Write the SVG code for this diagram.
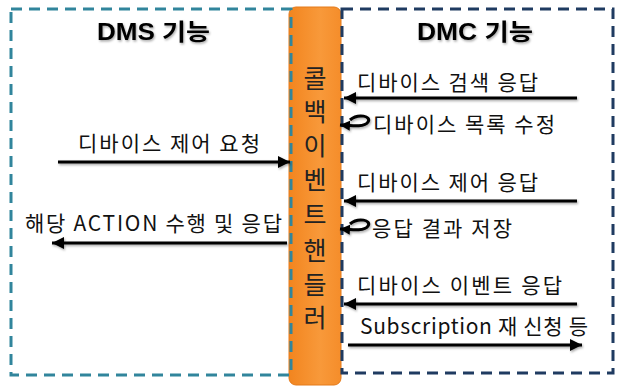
<svg xmlns="http://www.w3.org/2000/svg" width="618" height="386" viewBox="0 0 618 386">
<style>
.lbl{font-family:"Noto Sans CJK KR","Malgun Gothic",sans-serif;font-size:21px;fill:#111}
.ttl{font-family:"Liberation Sans","Noto Sans CJK KR",sans-serif;font-size:23px;font-weight:bold;fill:#000}
.vt{font-family:"Noto Sans CJK KR",sans-serif;font-size:25px;fill:#222;text-anchor:middle}
.arr{fill:none;stroke:#000;stroke-width:3}
</style>
<defs>
<linearGradient id="og" x1="0" y1="0" x2="1" y2="0">
<stop offset="0" stop-color="#F2851F"/>
<stop offset="0.6" stop-color="#F8993A"/>
<stop offset="1" stop-color="#F58D2A"/>
</linearGradient>
<marker id="ah" markerUnits="userSpaceOnUse" markerWidth="14" markerHeight="14" refX="12" refY="6" orient="auto">
<path d="M0,0 L12,6 L0,12 Z" fill="#000"/>
</marker>
<marker id="ahs" markerUnits="userSpaceOnUse" markerWidth="12" markerHeight="12" refX="10" refY="5" orient="auto">
<path d="M0,0 L10,5 L0,10 Z" fill="#000"/>
</marker>
<filter id="sh" x="-20%" y="-40%" width="140%" height="180%">
<feDropShadow dx="1" dy="1.5" stdDeviation="1" flood-color="#000" flood-opacity="0.35"/>
</filter>
</defs>
<g id="orange-bar">
<rect x="289" y="7" width="52" height="378" rx="7" ry="7" fill="url(#og)" stroke="#E47A1A" stroke-width="1"/>
</g>
<g id="dms-box">
<rect x="11" y="9" width="280" height="366" fill="none" stroke="#31859C" stroke-width="3" stroke-dasharray="11 7"/>
<text class="ttl" x="97" y="40" textLength="113" lengthAdjust="spacingAndGlyphs" filter="url(#sh)">DMS 기능</text>
</g>
<g id="dmc-box">
<rect x="342" y="9" width="271" height="364" fill="none" stroke="#1F3B61" stroke-width="3" stroke-dasharray="11 7"/>
<text class="ttl" x="417" y="40" textLength="116" lengthAdjust="spacingAndGlyphs" filter="url(#sh)">DMC 기능</text>
</g>
<g id="callback-label">
<text class="vt" x="315" y="88">콜</text>
<text class="vt" x="315" y="121">백</text>
<text class="vt" x="315" y="155">이</text>
<text class="vt" x="315" y="189">벤</text>
<text class="vt" x="315" y="224">트</text>
<text class="vt" x="315" y="260">핸</text>
<text class="vt" x="315" y="294">들</text>
<text class="vt" x="315" y="327">러</text>
</g>
<g id="labels">
<text class="lbl" x="78" y="151" textLength="182" lengthAdjust="spacing">디바이스 제어 요청</text>
<text class="lbl" x="25" y="231" textLength="257" lengthAdjust="spacing">해당 ACTION 수행 및 응답</text>
<text class="lbl" x="357" y="90" textLength="181" lengthAdjust="spacing">디바이스 검색 응답</text>
<text class="lbl" x="373" y="132" textLength="182" lengthAdjust="spacing">디바이스 목록 수정</text>
<text class="lbl" x="357" y="190" textLength="181" lengthAdjust="spacing">디바이스 제어 응답</text>
<text class="lbl" x="372" y="236" textLength="140" lengthAdjust="spacing">응답 결과 저장</text>
<text class="lbl" x="357" y="293" textLength="205" lengthAdjust="spacing">디바이스 이벤트 응답</text>
<text class="lbl" x="360" y="334" textLength="228" lengthAdjust="spacing">Subscription 재 신청 등</text>
</g>
<g id="connectors" filter="url(#sh)">
<line class="arr" x1="58" y1="162" x2="290" y2="162" marker-end="url(#ah)"/>
<line class="arr" x1="287" y1="243" x2="52" y2="243" marker-end="url(#ah)"/>
<line class="arr" x1="577" y1="98" x2="344" y2="98" marker-end="url(#ah)"/>
<line class="arr" x1="577" y1="201" x2="344" y2="201" marker-end="url(#ah)"/>
<line class="arr" x1="577" y1="304" x2="344" y2="304" marker-end="url(#ah)"/>
<line class="arr" x1="348" y1="345" x2="582" y2="345" marker-end="url(#ah)"/>
<path class="arr" d="M350,120 C358,113 372,116 368,122 C365,127 354,126 340,125" marker-end="url(#ahs)"/>
<path class="arr" d="M350,224 C358,217 372,220 368,226 C365,231 354,230 340,229" marker-end="url(#ahs)"/>
</g>
</svg>
